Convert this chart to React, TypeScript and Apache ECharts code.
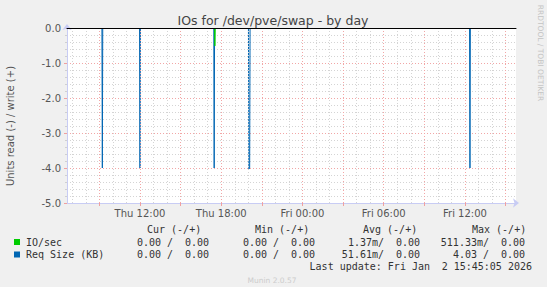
import React, { useEffect, useRef } from 'react';
import * as echarts from 'echarts';

// x is hours since Thu 00:00
const xStart = 6.61;
const xEnd = 39.77;
const xLabelHours = [12, 18, 24, 30, 36];
const xLabels = ['Thu 12:00', 'Thu 18:00', 'Fri 00:00', 'Fri 06:00', 'Fri 12:00'];
const majorHours = [9, 12, 15, 18, 21, 24, 27, 30, 33, 36, 39];
const minorHours = [7, 8, 10, 11, 13, 14, 16, 17, 19, 20, 22, 23, 25, 26, 28, 29, 31, 32, 34, 35, 37, 38];

// Req Size (KB), read side (drawn negative); null = stretch lying on the zero rule
const reqHours = [9.19, 9.22, 9.25, 9.26, 11.97, 12.0, 12.03, 12.04, 17.45, 17.48, 17.51, 17.52, 20.01, 20.04, 20.10, 20.13, 20.14, 36.34, 36.37, 36.40];
const reqRead = [0, -4.0, 0, null, 0, -4.0, 0, null, 0, -4.0, 0, null, 0, -4.03, -4.0, 0, null, 0, -4.0, 0];
// IO/sec, read side (drawn negative)
const ioHours = [17.50, 17.53, 17.56];
const ioRead = [0, -0.511, 0];

const legendNames = ['IO/sec', 'Req Size (KB)'];
const legendColors = ['#00cc00', '#0066b3'];
const colHeaders = ['Cur (-/+)', 'Min (-/+)', 'Avg (-/+)', 'Max (-/+)'];
const ioReadStats = ['0.00', '0.00', '1.37m', '511.33m'];
const ioWriteStats = ['0.00', '0.00', '0.00', '0.00'];
const reqReadStats = ['0.00', '0.00', '51.61m', '4.03'];
const reqWriteStats = ['0.00', '0.00', '0.00', '0.00'];
const lastUpdateParts = ['Last update: Fri Jan', '2 15:45:05 2026'];

const titleText = 'IOs for /dev/pve/swap - by day';
const yName = 'Units read (-) / write (+)';
const sideText = 'RRDTOOL / TOBI OETIKER';
const footerText = 'Munin 2.0.57';

const colRight = [209, 315, 420, 525];
const headerLeft = [147, 255, 363, 472];
const rowY = [242, 254.5];

const MONO = '"DejaVu Sans Mono", monospace';
const SANS = '"DejaVu Sans", sans-serif';

function buildGraphics() {
  const g: any[] = [];
  g.push({
    type: 'text', x: 273, y: 20,
    style: { text: titleText, fill: '#444', fontSize: 12.5, fontFamily: SANS, textAlign: 'center', textVerticalAlign: 'middle' },
  });
  g.push({
    type: 'text', x: 10, y: 126, rotation: Math.PI / 2,
    style: { text: yName, fill: '#555', fontSize: 10, fontFamily: SANS, textAlign: 'center', textVerticalAlign: 'middle' },
  });
  g.push({
    type: 'text', x: 540, y: 53, rotation: -Math.PI / 2,
    style: { text: sideText, fill: '#c4c4c4', fontSize: 7.5, fontFamily: SANS, textAlign: 'center', textVerticalAlign: 'middle' },
  });
  colHeaders.forEach((h, i) => {
    g.push({
      type: 'text', x: headerLeft[i], y: 229,
      style: { text: h, fill: '#333', fontSize: 10, fontFamily: MONO, textAlign: 'left', textVerticalAlign: 'middle' },
    });
  });
  const rows = [
    [ioReadStats, ioWriteStats],
    [reqReadStats, reqWriteStats],
  ];
  legendNames.forEach((name, r) => {
    g.push({
      type: 'rect', shape: { x: 14, y: rowY[r] - 3, width: 6, height: 6 },
      style: { fill: legendColors[r] },
    });
    g.push({
      type: 'text', x: 26, y: rowY[r],
      style: { text: name, fill: '#333', fontSize: 10, fontFamily: MONO, textAlign: 'left', textVerticalAlign: 'middle' },
    });
    const [rd, wr] = rows[r];
    colRight.forEach((R, c) => {
      const rt = rd[c].endsWith('m') ? rd[c] + '/' : rd[c] + ' /';
      g.push({
        type: 'text', x: R - 36, y: rowY[r],
        style: { text: rt, fill: '#333', fontSize: 10, fontFamily: MONO, textAlign: 'right', textVerticalAlign: 'middle' },
      });
      g.push({
        type: 'text', x: R, y: rowY[r],
        style: { text: wr[c], fill: '#333', fontSize: 10, fontFamily: MONO, textAlign: 'right', textVerticalAlign: 'middle' },
      });
    });
  });
  g.push({
    type: 'text', x: 532 - 90 - 12, y: 266.5,
    style: { text: lastUpdateParts[0], fill: '#333', fontSize: 10, fontFamily: MONO, textAlign: 'right', textVerticalAlign: 'middle' },
  });
  g.push({
    type: 'text', x: 532, y: 266.5,
    style: { text: lastUpdateParts[1], fill: '#333', fontSize: 10, fontFamily: MONO, textAlign: 'right', textVerticalAlign: 'middle' },
  });
  g.push({
    type: 'text', x: 272, y: 280,
    style: { text: footerText, fill: '#cccccc', fontSize: 7.5, fontFamily: SANS, textAlign: 'center', textVerticalAlign: 'middle' },
  });
  return g;
}

const pairs = (xs: number[], ys: (number | null)[]) => xs.map((x, i) => [x, ys[i] === null ? '-' : ys[i]]);

export default function App() {
  const ref = useRef<HTMLDivElement>(null);
  useEffect(() => {
    document.body.style.margin = '0';
    const chart = echarts.init(ref.current!, null, { renderer: 'svg' });
    const vline = (hours: number[], color: string) => ({
      type: 'line',
      data: [],
      silent: true,
      z: 1,
      markLine: {
        silent: true,
        symbol: ['none', 'none'],
        label: { show: false },
        emphasis: { disabled: true },
        lineStyle: { color, type: [1, 2], width: 1 },
        data: hours.map((h) => ({ xAxis: h })),
      },
    });
    chart.setOption({
      animation: false,
      backgroundColor: '#f0f0f0',
      grid: { left: 67, top: 28, width: 449, height: 175, show: true, backgroundColor: '#ffffff', borderWidth: 0 },
      graphic: buildGraphics(),
      xAxis: [
        {
          type: 'value',
          min: xStart,
          max: xEnd,
          splitLine: { show: false },
          axisLine: {
            show: true, onZero: false,
            lineStyle: { color: '#c8ccf4', width: 1 },
            symbol: ['none', 'arrow'], symbolSize: [7, 6], symbolOffset: [0, 3],
          },
          axisTick: { show: true, customValues: majorHours, length: 3, lineStyle: { color: '#f0a0a0' } },
          axisLabel: {
            show: true,
            customValues: xLabelHours,
            margin: 5,
            color: '#555',
            fontSize: 10,
            fontFamily: SANS,
            formatter: (v: number) => {
              const i = xLabelHours.findIndex((h) => Math.abs(h - v) < 1e-6);
              return i >= 0 ? xLabels[i] : '';
            },
          },
        },
        {
          // zero rule: all write values and the idle read values lie here
          type: 'value',
          position: 'top',
          min: xStart,
          max: xEnd,
          z: 20,
          splitLine: { show: false },
          axisTick: { show: false },
          axisLabel: { show: false },
          axisLine: { show: true, onZero: false, lineStyle: { color: '#000000', width: 1 } },
        },
      ],
      yAxis: {
        type: 'value',
        min: -5,
        max: 0,
        interval: 1,
        axisLine: {
          show: true, onZero: false,
          lineStyle: { color: '#c8ccf4', width: 1 },
          symbol: ['none', 'arrow'], symbolSize: [7, 6], symbolOffset: [0, 4],
        },
        axisTick: { show: true, length: 3, lineStyle: { color: '#f0a0a0' } },
        minorTick: { show: true, splitNumber: 5, length: 2, lineStyle: { color: '#d0d0d0' } },
        splitLine: { show: true, lineStyle: { color: '#f2a6a6', type: [1, 2], width: 1 } },
        minorSplitLine: { show: true, lineStyle: { color: '#d4d4d4', type: [1, 2], width: 1 } },
        axisLabel: {
          margin: 6,
          color: '#555',
          fontSize: 10,
          fontFamily: SANS,
          formatter: (v: number) => v.toFixed(1),
        },
      },
      series: [
        vline(minorHours, '#d4d4d4'),
        vline(majorHours, '#f2a6a6'),
        {
          name: 'Req Size read', type: 'line', data: pairs(reqHours, reqRead),
          connectNulls: false,
          showSymbol: false, lineStyle: { color: legendColors[1], width: 1 }, z: 4,
        },
        {
          name: 'IO/sec read', type: 'line', data: pairs(ioHours, ioRead),
          showSymbol: false, lineStyle: { color: legendColors[0], width: 1 }, z: 5,
        },
      ],
    });
    return () => chart.dispose();
  }, []);
  return <div ref={ref} style={{ width: 547, height: 287 }} />;
}
